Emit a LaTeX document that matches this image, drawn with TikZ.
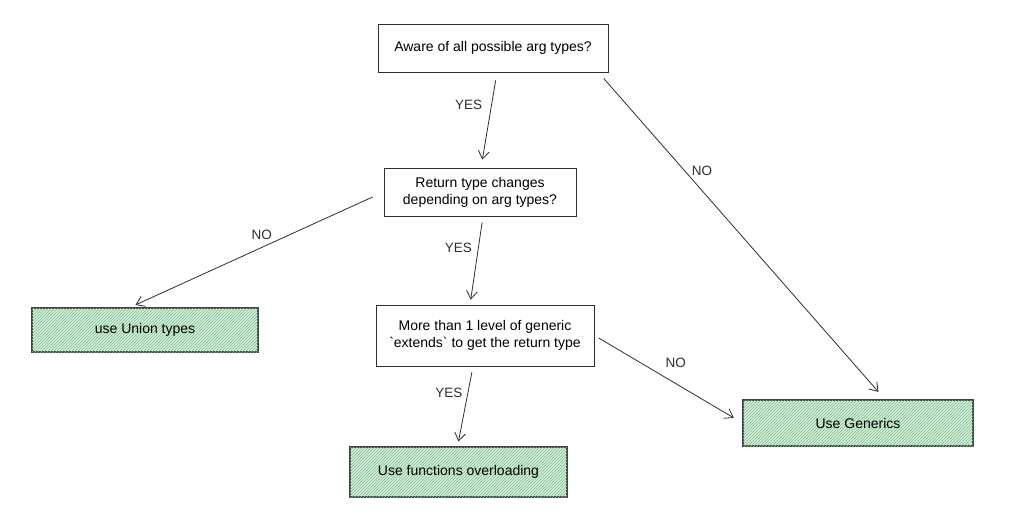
\documentclass[tikz,border=0pt]{standalone}
\usepackage{fontspec}
\setmainfont{Liberation Sans}
\usetikzlibrary{arrows.meta,positioning,patterns}
\definecolor{ink}{HTML}{2E2E2E}
\definecolor{leaf}{HTML}{D6EEDB}
\definecolor{hatch}{HTML}{7DC28E}
\begin{document}
\begin{tikzpicture}[x=1pt,y=-1pt]
      \tikzstyle{q}=[draw=ink,line width=0.9pt,fill=white,inner sep=0pt,align=center,font=\fontsize{14}{17}\selectfont]
      \tikzstyle{ans}=[q,draw=ink!90,line width=1.2pt,fill=leaf,postaction={pattern=north east lines,pattern color=hatch}]
      \tikzstyle{conn}=[draw=ink,line width=0.8pt,-{Straight Barb[length=8pt,width=11pt]}]
      \tikzstyle{lbl}=[font=\fontsize{13.5}{16}\selectfont,text=ink,inner sep=1pt]
      \useasboundingbox (0,0) rectangle (1024,525);
      \node[q,minimum width=230pt,minimum height=48pt] (aware) at (493,48) {Aware of all possible arg types?};
      \node[q,minimum width=192pt,minimum height=48pt] (ret) at (480,192) {Return type changes\\depending on arg types?};
      \node[q,minimum width=218pt,minimum height=61pt] (more) at (485,335.5) {More than 1 level of generic\\\textasciigrave extends\textasciigrave{} to get the return type};
      \node[ans,minimum width=226pt,minimum height=44pt] (union) at (145,330) {use Union types};
      \node[ans,minimum width=230pt,minimum height=46pt] (gen) at (858,423) {Use Generics};
      \node[ans,minimum width=217pt,minimum height=50pt] (over) at (458.5,472) {Use functions overloading};
      \draw[conn,shorten <=8pt,shorten >=8pt] ([xshift=4pt]aware.south) -- node[lbl,pos=0.34,left=8pt]{YES} ([xshift=1pt]ret.north);
      \draw[conn,shorten <=8pt,shorten >=10pt] ([xshift=-10pt]aware.south east) -- node[lbl,pos=0.3,right=6pt]{NO} ([xshift=27pt]gen.north);
      \draw[conn,shorten <=12pt,shorten >=6pt] (ret.west) -- node[lbl,pos=0.48,above=6pt]{NO} ([xshift=-15pt]union.north);
      \draw[conn,shorten <=6pt,shorten >=5pt] ([xshift=3pt]ret.south) -- node[lbl,pos=0.36,left=5pt]{YES} ([xshift=-15pt]more.north);
      \draw[conn,shorten <=5pt,shorten >=10pt] (more.east) -- node[lbl,pos=0.55,above=15pt]{NO} (gen.west);
      \draw[conn,shorten <=6pt,shorten >=5pt] ([xshift=-12pt]more.south) -- node[lbl,pos=0.33,left=4pt]{YES} ([xshift=-1pt]over.north);
    \end{tikzpicture}
\end{document}
